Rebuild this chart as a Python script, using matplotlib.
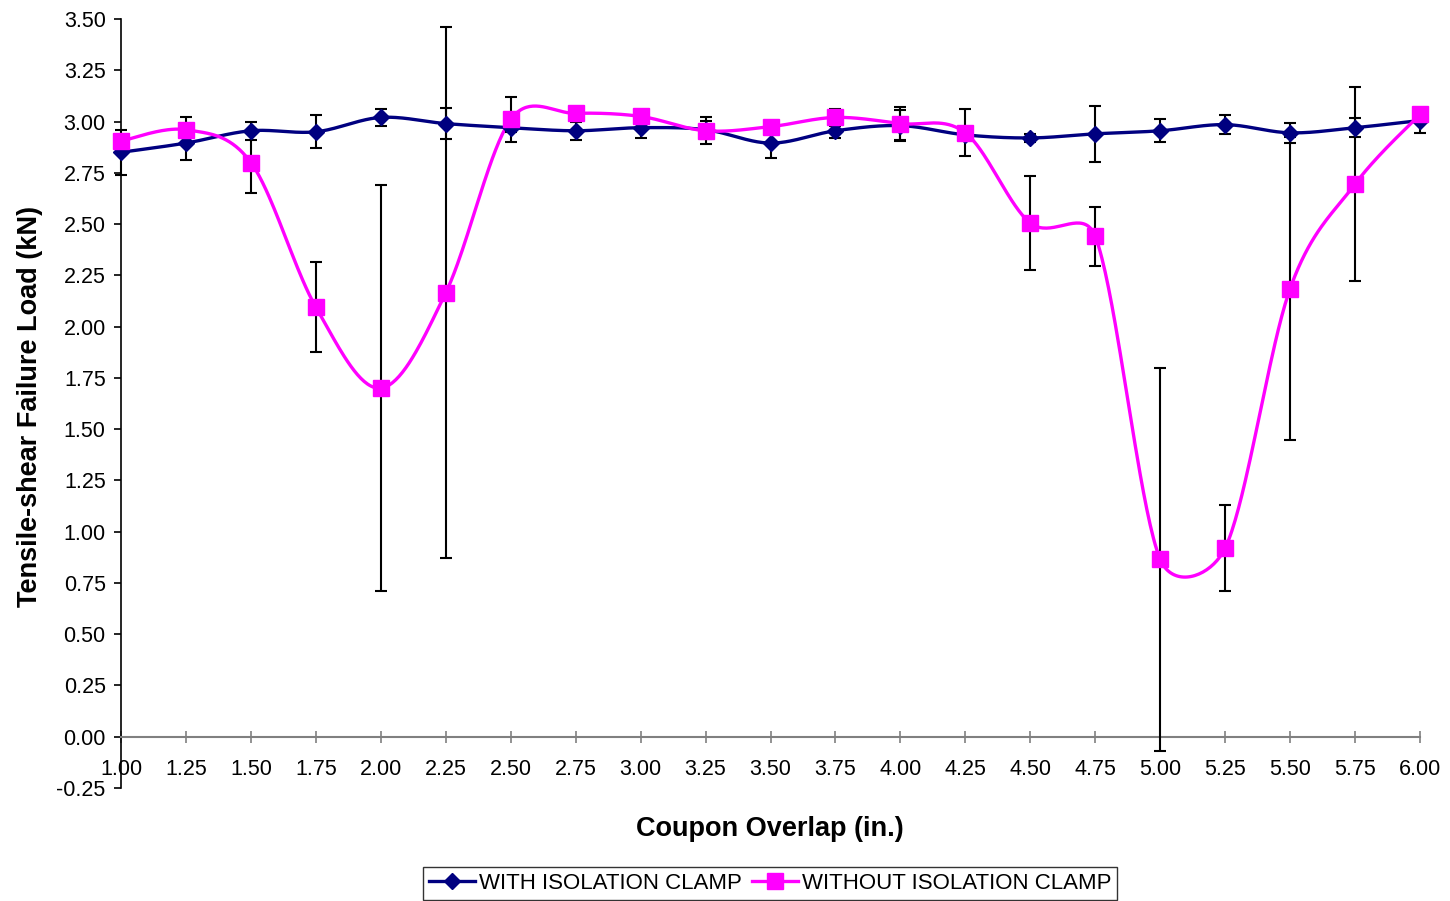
import numpy as np
import matplotlib
matplotlib.use("Agg")
import matplotlib.pyplot as plt
from matplotlib.lines import Line2D

plt.rcParams['font.family'] = ['Liberation Sans', 'DejaVu Sans']

# ---------------- data ----------------
overlap = [1.00, 1.25, 1.50, 1.75, 2.00, 2.25, 2.50, 2.75, 3.00, 3.25, 3.50,
           3.75, 4.00, 4.25, 4.50, 4.75, 5.00, 5.25, 5.50, 5.75, 6.00]
with_clamp = [2.85, 2.895, 2.955, 2.95, 3.02, 2.99, 2.97, 2.955, 2.97, 2.96, 2.895,
              2.955, 2.98, 2.935, 2.92, 2.94, 2.955, 2.985, 2.945, 2.97, 3.005]
with_err = [0.11, 0.085, 0.045, 0.08, 0.04, 0.075, 0.02, 0.045, 0.05, 0.045, 0.075,
            0.035, 0.075, 0.02, 0.02, 0.135, 0.055, 0.045, 0.05, 0.045, 0.06]
without_clamp = [2.905, 2.96, 2.80, 2.095, 1.70, 2.165, 3.01, 3.04, 3.025, 2.955, 2.975,
                 3.02, 2.99, 2.945, 2.505, 2.44, 0.865, 0.92, 2.185, 2.695, 3.035]
without_err = [0.03, 0.06, 0.15, 0.22, 0.99, 1.295, 0.11, 0.02, 0.02, 0.065, 0.02,
               0.04, 0.08, 0.115, 0.23, 0.145, 0.935, 0.21, 0.74, 0.475, 0.02]
series_labels = ["WITH ISOLATION CLAMP", "WITHOUT ISOLATION CLAMP"]
x_ticks = [1.00, 1.25, 1.50, 1.75, 2.00, 2.25, 2.50, 2.75, 3.00, 3.25, 3.50,
           3.75, 4.00, 4.25, 4.50, 4.75, 5.00, 5.25, 5.50, 5.75, 6.00]
y_ticks = [-0.25, 0.00, 0.25, 0.50, 0.75, 1.00, 1.25, 1.50, 1.75, 2.00, 2.25,
           2.50, 2.75, 3.00, 3.25, 3.50]

BLUE = '#000080'
PINK = '#FF00FF'

W, H = 1450, 901
fig = plt.figure(figsize=(W / 100, H / 100), dpi=100)
ax = fig.add_axes([121 / W, 1 - 788 / H, (1420 - 121) / W, (788 - 19) / H])
ax.set_xlim(1.0, 6.0)
ax.set_ylim(-0.25, 3.5)


def smooth(xs, ys, n=40):
    """Excel-like smoothed curve: cubic Bezier in display space with
    Catmull-Rom tangents whose handle length is limited by segment length."""
    P = ax.transData.transform(np.column_stack([xs, ys]))
    m = len(P)

    def tangent(i):
        a = P[max(i - 1, 0)]
        b = P[min(i + 1, m - 1)]
        t = b - a
        L = np.hypot(*t)
        return t / L, L

    out = [P[0]]
    for i in range(m - 1):
        p0, p1 = P[i], P[i + 1]
        d = np.hypot(*(p1 - p0))
        u0, L0 = tangent(i)
        u1, L1 = tangent(i + 1)
        h0 = min(L0 / 6.0, 0.5 * d)
        h1 = min(L1 / 6.0, 0.5 * d)
        c1 = p0 + u0 * h0
        c2 = p1 - u1 * h1
        tt = np.linspace(0, 1, n)[1:, None]
        seg = ((1 - tt) ** 3) * p0 + 3 * ((1 - tt) ** 2) * tt * c1 + \
            3 * (1 - tt) * tt ** 2 * c2 + tt ** 3 * p1
        out.extend(seg)
    out = np.array(out)
    return ax.transData.inverted().transform(out)


# lines
sb = smooth(overlap, with_clamp)
sp = smooth(overlap, without_clamp)
ax.plot(sb[:, 0], sb[:, 1], color=BLUE, lw=2.4, zorder=3, clip_on=False)
ax.plot(sp[:, 0], sp[:, 1], color=PINK, lw=2.4, zorder=4, clip_on=False)

# error bars
ax.errorbar(overlap, with_clamp, yerr=with_err, fmt='none', ecolor='black',
            elinewidth=1.5, capsize=4.3, capthick=1.5, zorder=5, clip_on=False)
ax.errorbar(overlap, without_clamp, yerr=without_err, fmt='none', ecolor='black',
            elinewidth=1.5, capsize=4.3, capthick=1.5, zorder=5, clip_on=False)

# markers
ax.plot(overlap, with_clamp, linestyle='none', marker='D', ms=8.5, color=BLUE,
        zorder=6, clip_on=False)
ax.plot(overlap, without_clamp, linestyle='none', marker='s', ms=12, color=PINK,
        zorder=7, clip_on=False)

# axes styling
for s in ['top', 'right']:
    ax.spines[s].set_visible(False)
ax.spines['bottom'].set_position(('data', 0))
ax.spines['bottom'].set_color('#808080')
ax.spines['bottom'].set_linewidth(1.5)
ax.spines['left'].set_color('black')
ax.spines['left'].set_linewidth(1.2)

ax.set_xticks(x_ticks)
ax.set_xticklabels([f"{v:.2f}" for v in x_ticks])
ax.set_yticks(y_ticks)
ax.set_yticklabels([f"{v:.2f}" for v in y_ticks])
ax.tick_params(axis='x', direction='inout', length=9, width=1.2, color='#808080',
               labelsize=15.5, pad=11.5)
ax.tick_params(axis='y', direction='out', length=5, width=1.2, color='black',
               labelsize=15.5, pad=6)

fig.text(770 / W, 1 - 829 / H, "Coupon Overlap (in.)", ha='center', va='center',
         fontsize=19.5, fontweight='bold')
fig.text(30 / W, 1 - 406 / H, "Tensile-shear Failure Load (kN)", ha='center',
         va='center', rotation=90, fontsize=19.5, fontweight='bold')

handles = [Line2D([], [], color=BLUE, lw=2.4, marker='D', ms=8.5),
           Line2D([], [], color=PINK, lw=2.4, marker='s', ms=12)]
leg = fig.legend(handles, series_labels, loc='center', bbox_to_anchor=(770 / W, 1 - 883.5 / H),
                 ncol=2, frameon=True, fancybox=False, fontsize=16,
                 handlelength=2.1, handletextpad=0.15, columnspacing=0.45,
                 borderpad=0.25, borderaxespad=0)
leg.get_frame().set_edgecolor('black')
leg.get_frame().set_linewidth(1.0)

fig.savefig("out.png", dpi=100)
